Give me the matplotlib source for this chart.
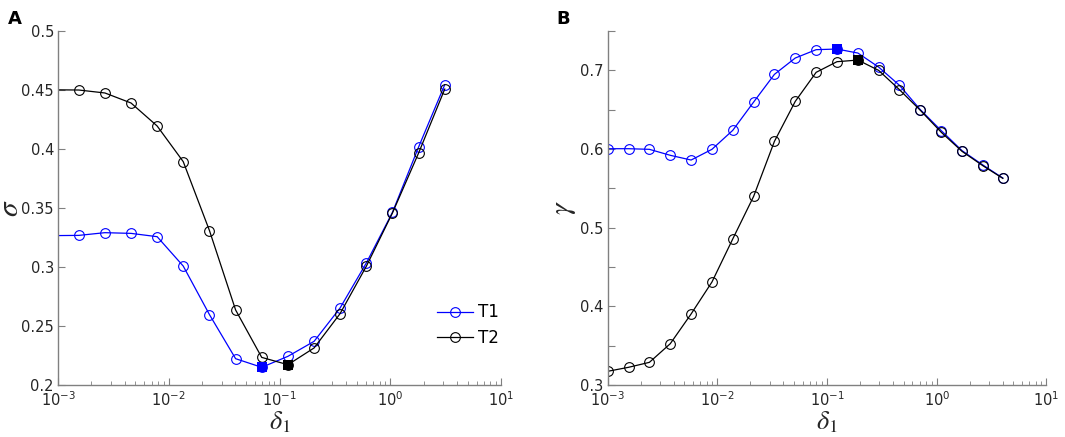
import matplotlib

matplotlib.use("Agg")
import matplotlib.pyplot as plt
from matplotlib.ticker import FixedLocator, FuncFormatter, LogLocator, NullFormatter

plt.rcParams["mathtext.fontset"] = "stix"

# panel A: sigma vs delta_1 (first point sits just left of the axis)
delta_a = [8.93e-4, 1.54e-3, 2.65e-3, 4.56e-3, 7.85e-3, 0.0135, 0.0233, 0.0401,
           0.0690, 0.119, 0.205, 0.352, 0.607, 1.045, 1.80, 3.10]
sigma_t1 = [0.3266, 0.3268, 0.3291, 0.3285, 0.3257, 0.3008, 0.2596, 0.2223,
            0.2150, 0.2243, 0.2370, 0.2653, 0.3034, 0.3463, 0.4017, 0.4545]
sigma_t2 = [0.4502, 0.4500, 0.4475, 0.4390, 0.4195, 0.3893, 0.3308, 0.2636,
            0.2234, 0.2172, 0.2314, 0.2605, 0.3006, 0.3458, 0.3966, 0.4508]
sigma_min_t1 = 8   # index of the optimum for T1
sigma_min_t2 = 9

# panel B: gamma vs delta_1
delta_b = [1.00e-3, 1.55e-3, 2.40e-3, 3.72e-3, 5.76e-3, 8.92e-3, 0.0138, 0.0214,
           0.0331, 0.0513, 0.0795, 0.123, 0.191, 0.295, 0.457, 0.708, 1.10,
           1.70, 2.63, 4.00]
gamma_t1 = [0.6004, 0.6004, 0.5996, 0.5920, 0.5860, 0.5996, 0.6237, 0.6597,
            0.6949, 0.7157, 0.7263, 0.7271, 0.7220, 0.7042, 0.6810, 0.6500,
            0.6233, 0.5979, 0.5797, 0.5631]
gamma_t2 = [0.3174, 0.3225, 0.3288, 0.3525, 0.3903, 0.4309, 0.4856, 0.5398,
            0.6097, 0.6606, 0.6975, 0.7110, 0.7131, 0.7000, 0.6754, 0.6492,
            0.6212, 0.5970, 0.5788, 0.5627]
gamma_max_t1 = 11
gamma_max_t2 = 12

BLUE = "#0000ff"
GRAY = "#808080"
TXT = "#262626"


def style_axes(ax):
    for side in ("top", "right"):
        ax.spines[side].set_visible(False)
    for side in ("left", "bottom"):
        ax.spines[side].set_color(GRAY)
        ax.spines[side].set_linewidth(1.0)
    ax.set_xscale("log")
    ax.set_xlim(1e-3, 1e1)
    ax.xaxis.set_major_locator(LogLocator(base=10, numticks=10))
    ax.xaxis.set_minor_locator(LogLocator(base=10, subs=range(2, 10), numticks=10))
    ax.xaxis.set_minor_formatter(NullFormatter())
    ax.tick_params(which="both", direction="in", color=GRAY, labelcolor=TXT,
                   labelsize=10.5)
    ax.tick_params(axis="x", pad=4)
    ax.tick_params(axis="y", pad=3)
    ax.tick_params(which="major", length=5)
    ax.tick_params(which="minor", length=3)
    ax.set_xlabel(r"$\delta_1$", fontsize=19, color=TXT, labelpad=0)


def draw(ax, x, y1, y2, i1, i2):
    ax.plot(x, y1, color=BLUE, lw=0.9, marker="o", ms=7, mfc="none",
            mec=BLUE, mew=0.8, label="T1")
    ax.plot(x, y2, color="black", lw=0.9, marker="o", ms=7, mfc="none",
            mec="black", mew=0.8, label="T2")
    ax.plot(x[i1], y1[i1], "s", color=BLUE, ms=7, mew=0, zorder=4)
    ax.plot(x[i2], y2[i2], "s", color="black", ms=7, mew=0, zorder=4)


fig = plt.figure(figsize=(10.65, 4.37), dpi=100)
ax_a = fig.add_axes([0.0545, 0.119, 0.416, 0.81])
ax_b = fig.add_axes([0.5706, 0.119, 0.412, 0.81])

draw(ax_a, delta_a, sigma_t1, sigma_t2, sigma_min_t1, sigma_min_t2)
style_axes(ax_a)
ax_a.set_ylim(0.2, 0.5)
ax_a.yaxis.set_major_locator(FixedLocator([0.2, 0.25, 0.3, 0.35, 0.4, 0.45, 0.5]))
ax_a.yaxis.set_major_formatter(FuncFormatter(lambda v, p: f"{v:g}"))
ax_a.set_ylabel(r"$\sigma$", fontsize=21, color=TXT)
ax_a.yaxis.set_label_coords(-0.076, 0.5)
ax_a.legend(loc="lower right", bbox_to_anchor=(1.03, 0.065), frameon=False,
            fontsize=12, handlelength=2.2, handletextpad=0.3, labelspacing=0.45)

draw(ax_b, delta_b, gamma_t1, gamma_t2, gamma_max_t1, gamma_max_t2)
style_axes(ax_b)
ax_b.set_ylim(0.3, 0.75)
ax_b.yaxis.set_major_locator(FixedLocator([0.3, 0.35, 0.4, 0.45, 0.5, 0.55,
                                           0.6, 0.65, 0.7, 0.75]))
ax_b.yaxis.set_major_formatter(
    FuncFormatter(lambda v, p: f"{v:.1f}" if round(v * 100) % 10 == 0 and v < 0.74 else ""))
ax_b.set_ylabel(r"$\gamma$", fontsize=21, color=TXT)
ax_b.yaxis.set_label_coords(-0.067, 0.5)

fig.text(0.007, 0.978, "A", fontsize=13, fontweight="bold", va="top")
fig.text(0.522, 0.978, "B", fontsize=13, fontweight="bold", va="top")

fig.savefig("out.png", dpi=100)
